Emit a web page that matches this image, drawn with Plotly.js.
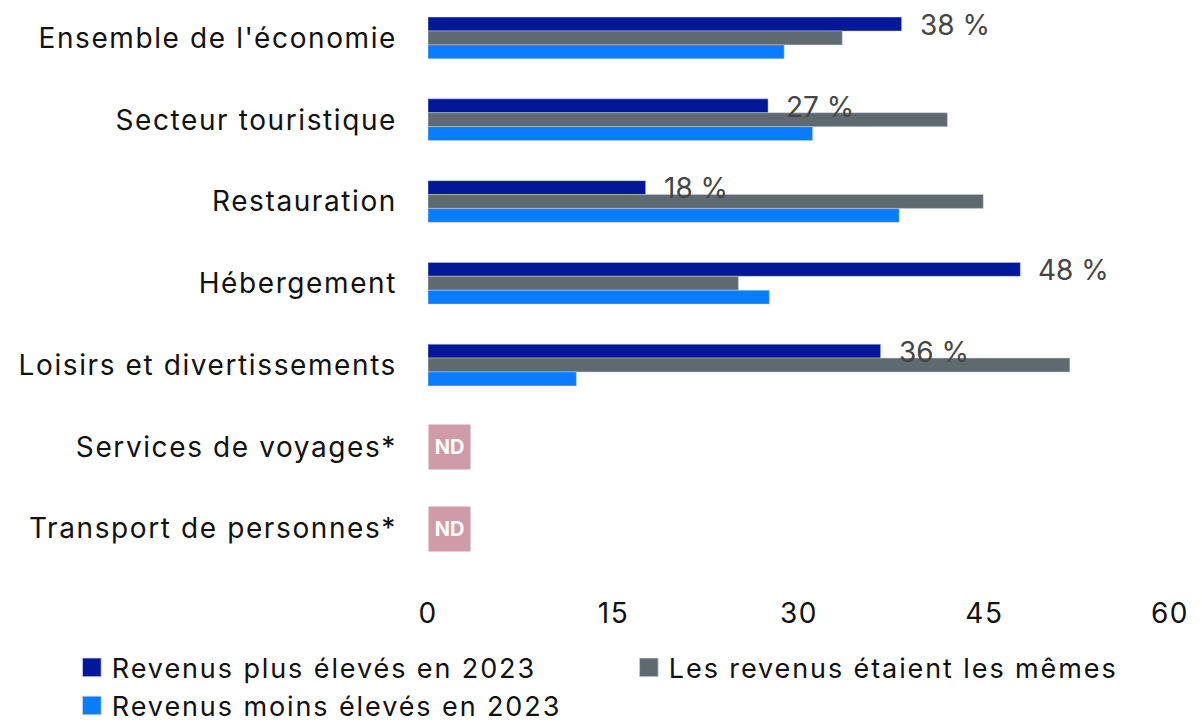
<!DOCTYPE html>
<html>
<head>
<meta charset="utf-8">
<script src="https://cdn.plot.ly/plotly-3.0.1.min.js"></script>
<style>
html,body{margin:0;padding:0;background:#fff;}
#chart{width:1202px;height:726px;}
#chart .ytick text, #chart .xtick text {letter-spacing:1.6px;}
#chart .legendtext {letter-spacing:1.9px;}
#chart .legendpoints path{transform:translate(20px,0px) scale(1.55);}
</style>
</head>
<body>
<div id="chart"></div>
<script>
const categories = [
  "Ensemble de l'économie",
  "Secteur touristique",
  "Restauration",
  "Hébergement",
  "Loisirs et divertissements",
  "Services de voyages*",
  "Transport de personnes*"
];
const seriesNames = [
  "Revenus plus élevés en 2023",
  "Les revenus étaient les mêmes",
  "Revenus moins élevés en 2023"
];
const higher = [38.3, 27.5, 17.6, 47.9, 36.6, null, null];
const same   = [33.5, 42.0, 44.9, 25.1, 51.9, null, null];
const lower  = [28.8, 31.1, 38.1, 27.6, 12.0, null, null];
const higherLabels = ["38 %", "27 %", "18 %", "48 %", "36 %", null, null];
const ndCategories = ["Services de voyages*", "Transport de personnes*"];
const ndText = "ND";
const xTicks = [0, 15, 30, 45, 60];

const colors = ["#021899", "#5f6a70", "#0a7cff"];
const FONT = "Inter, 'Open Sans', sans-serif";

const data = [higher, same, lower].map((vals, i) => ({
  type: "bar",
  orientation: "h",
  name: seriesNames[i],
  y: categories,
  x: vals,
  marker: {color: colors[i], line: {color: "rgba(200,210,230,0.8)", width: 0.6}},
  hoverinfo: "skip"
}));

const annotations = [];
higherLabels.forEach((t, i) => {
  if (t) annotations.push({
    x: higher[i], y: categories[i], xref: "x", yref: "y",
    text: t, showarrow: false, xanchor: "left", yanchor: "middle",
    xshift: 16, yshift: 13,
    font: {family: FONT, size: 28, color: "#454545"}
  });
});
ndCategories.forEach(c => annotations.push({
  x: 0, y: c, xref: "x", yref: "y",
  text: "<b>" + ndText + "</b>", showarrow: false,
  xanchor: "left", yanchor: "middle",
  width: 41, height: 44, borderpad: 0,
  bgcolor: "#cf9ba8",
  font: {family: FONT, size: 20, color: "#ffffff", weight: 800}
}));

const layout = {
  width: 1202, height: 726,
  paper_bgcolor: "#fff", plot_bgcolor: "#fff",
  margin: {l: 428, r: 32, t: 0, b: 132, autoexpand: false},
  barmode: "group",
  bargap: 0.49,
  bargroupgap: 0,
  showlegend: true,
  font: {family: FONT, color: "#111"},
  xaxis: {
    range: [0, 60], tickvals: xTicks, ticktext: xTicks.map(String),
    showgrid: false, zeroline: false, showline: false, ticks: "",
    tickfont: {family: FONT, size: 28, color: "#111"},
    fixedrange: true
  },
  yaxis: {
    type: "category", range: [6.8, -0.464],
    showgrid: false, zeroline: false, showline: false, ticks: "",
    ticklabelstandoff: 30,
    tickfont: {family: FONT, size: 28, color: "#111"},
    fixedrange: true
  },
  legend: {
    orientation: "h", x: -0.48, xanchor: "left", y: -0.083, yanchor: "top",
    font: {family: FONT, size: 27, color: "#111"},
    traceorder: "normal",
    entrywidth: 512, entrywidthmode: "pixels",
    itemwidth: 30, tracegroupgap: 0
  },
  annotations: annotations
};

Plotly.newPlot("chart", data, layout, {displayModeBar: false, staticPlot: true});
</script>
</body>
</html>
